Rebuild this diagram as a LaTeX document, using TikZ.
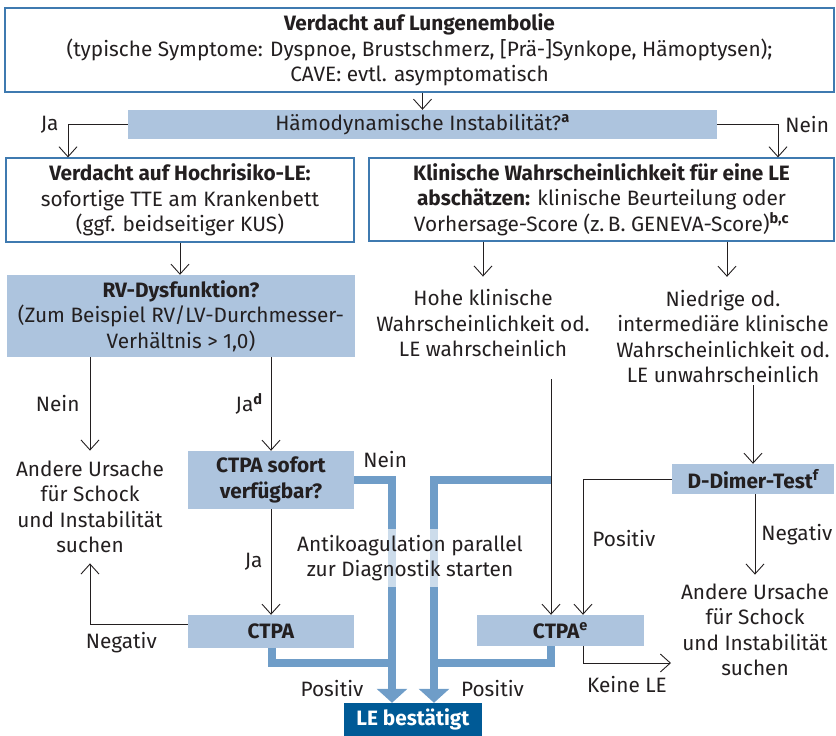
\documentclass[tikz,border=0pt]{standalone}
\usepackage{fontspec}
\setmainfont{Fira Sans}
\usetikzlibrary{arrows.meta,positioning}
\definecolor{boxline}{HTML}{3F7AB0}
\definecolor{paleblue}{HTML}{ADC4DE}
\definecolor{pathblue}{HTML}{6F9DC8}
\definecolor{deepblue}{HTML}{005A96}
\definecolor{inkgray}{HTML}{231F20}
\newcommand\chartfont{\fontsize{20.8}{25.5}\selectfont}

\begin{document}
\begin{tikzpicture}[
  x=1pt,y=-1pt,
  >={Straight Barb[length=10pt,width=18pt]},
  every node/.style={font=\chartfont,text=inkgray,align=center,inner sep=0pt},
  framed/.style={draw=boxline,line width=1.2pt,fill=white},
  shaded/.style={fill=paleblue},
  flow/.style={->,line width=0.9pt,draw=inkgray},
  lane/.style={line width=8pt,draw=pathblue},
  lanearrow/.style={lane,-{Triangle[length=14pt,width=30pt]}}
]
  \useasboundingbox (0,0) rectangle (836,736);

  \node[framed,minimum width=829pt,minimum height=84pt] (verdacht) at (419.5,50)
    {\textbf{Verdacht auf Lungenembolie}\\(typische Symptome: Dyspnoe, Brustschmerz, [Prä-]Synkope, Hämoptysen);\\CAVE: evtl. asymptomatisch};
  \node[shaded,minimum width=589pt,minimum height=29pt] (hamo) at (422.5,124.5)
    {Hämodynamische Instabilität?\textsuperscript{\textbf{a}}};
  \node[framed,minimum width=348pt,minimum height=84pt] (hochrisiko) at (180,200)
    {\textbf{Verdacht auf Hochrisiko-LE:}\\sofortige TTE am Krankenbett\\(ggf. beidseitiger KUS)};
  \node[framed,minimum width=465pt,minimum height=83pt] (klinisch) at (601.5,199.5)
    {\textbf{Klinische Wahrscheinlichkeit für eine LE}\\\textbf{abschätzen:} klinische Beurteilung oder\\Vorhersage-Score (z.\,B. GENEVA-Score)\textsuperscript{\textbf{b,c}}};
  \node[shaded,minimum width=348pt,minimum height=82pt] (rv) at (181,316)
    {\textbf{RV-Dysfunktion?}\\(Zum Beispiel RV/LV-Durchmesser-\\Verhältnis > 1,0)};
  \node (hohe) at (483,323.5) {Hohe klinische\\Wahrscheinlichkeit od.\\LE wahrscheinlich};
  \node (niedrige) at (723,336.5) {Niedrige od.\\intermediäre klinische\\Wahrscheinlichkeit od.\\LE unwahrscheinlich};
  \node (andereL) at (90,507) {Andere Ursache\\für Schock\\und Instabilität\\suchen};
  \node[shaded,minimum width=166pt,minimum height=58pt] (sofort) at (271,480)
    {\textbf{CTPA sofort}\\\textbf{verfügbar?}};
  \node[shaded,minimum width=166pt,minimum height=33pt] (ctpaL) at (271,631.5) {\textbf{CTPA}};
  \node[shaded,minimum width=167pt,minimum height=31pt] (ctpaR) at (560.5,630.5) {\textbf{CTPA\textsuperscript{e}}};
  \node[shaded,minimum width=162pt,minimum height=30pt] (ddimer) at (753,479) {\textbf{D-Dimer-Test\textsuperscript{f}}};
  \node (andereR) at (755,630) {Andere Ursache\\für Schock\\und Instabilität\\suchen};
  \node[fill=deepblue,text=white,minimum width=138pt,minimum height=33pt] (bestaetigt) at (413,719.5)
    {\textbf{LE bestätigt}};

  \coordinate (splitR) at (551,480);
  \coordinate (joinL) at (392,663);
  \coordinate (joinR) at (434,663);
  \coordinate (keineEnd) at (671,663);

  \draw[lanearrow] (sofort.east) -| ([xshift=-21pt]bestaetigt.north);
  \draw[lanearrow] (splitR) -| ([xshift=21pt]bestaetigt.north);
  \draw[lane] ([xshift=1pt]ctpaL.south) |- (joinL) node[pos=0.75,below=13pt] {Positiv};
  \draw[lane] ([xshift=-9.5pt]ctpaR.south) |- (joinR) node[pos=0.75,below=13pt] {Positiv};
  \node[fill=white,fill opacity=0.65,text opacity=1,inner xsep=2pt,inner ysep=6pt] (antikoag) at (410,558)
    {Antikoagulation parallel\\zur Diagnostik starten};
  \node[above right=12pt and 9pt of sofort.east] (neinB) {Nein};

  \draw[flow] (verdacht.south -| hamo.north) -- (hamo.north);
  \draw[flow] (hamo.west) -| node[pos=0.5,left=9pt] {Ja} ([xshift=-112pt]hochrisiko.north);
  \draw[flow] (hamo.east) -| node[pos=0.5,right=7pt] {Nein} ([xshift=176.5pt]klinisch.north);
  \draw[flow] (hochrisiko.south) -- (hochrisiko.south |- rv.north);
  \draw[flow] (klinisch.south -| hohe.north) -- ([yshift=13pt]hohe.north);
  \draw[flow] ([xshift=4pt]klinisch.south -| niedrige.north) -- ([xshift=4pt,yshift=13pt]niedrige.north);
  \draw[flow] ([yshift=-22pt]hohe.south -| splitR) -- (splitR |- ctpaR.north);
  \draw[flow] ([yshift=-2pt]niedrige.south -| ddimer.north) -- (ddimer.north);
  \draw[flow] (rv.south -| andereL.north) -- node[left=10pt] {Nein} ([yshift=10pt]andereL.north);
  \draw[flow] (rv.south -| sofort.north) -- node[left=8pt] {Ja\textsuperscript{\textbf{d}}} (sofort.north);
  \draw[flow] (sofort.south) -- node[left=8pt] {Ja} (ctpaL.north);
  \draw[flow] ([yshift=7.5pt]ctpaL.west) -| node[pos=0.34,below=8pt] {Negativ} ([yshift=-10pt]andereL.south);
  \draw[flow] (ddimer.west) -| node[pos=0.72,right=9pt] {Positiv} ([xshift=22.5pt]ctpaR.north);
  \draw[flow] (ddimer.south -| andereR.north) -- node[right=6pt] {Negativ} ([yshift=9pt]andereR.north);
  \draw[flow] ([xshift=22.5pt]ctpaR.south) |- node[pos=0.75,below=13pt] {Keine LE} (keineEnd);
\end{tikzpicture}
\end{document}
